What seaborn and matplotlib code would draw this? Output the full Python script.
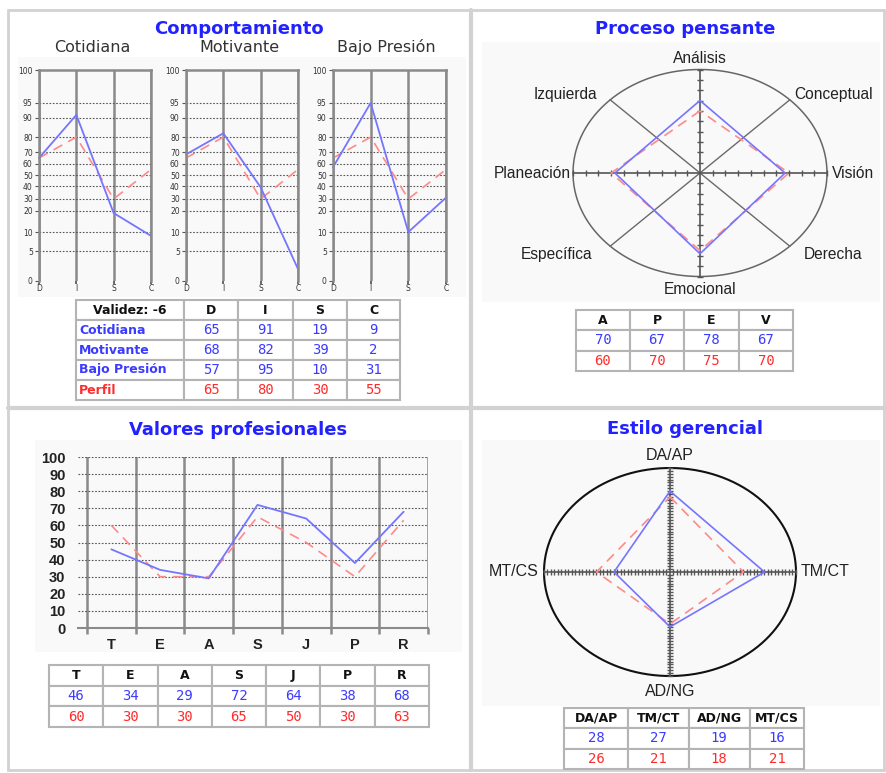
import numpy as np
import seaborn as sns
import matplotlib.pyplot as plt
from matplotlib.lines import Line2D
from matplotlib.patches import Rectangle

# ---- data ----
disc_cats = ["D", "I", "S", "C"]
disc_names = ["Cotidiana", "Motivante", "Bajo Presión"]
cotidiana = [65, 91, 19, 9]
motivante = [68, 82, 39, 2]
bajo_presion = [57, 95, 10, 31]
perfil_disc = [65, 80, 30, 55]
validez = -6
disc_ticks = [0, 5, 10, 20, 30, 40, 50, 60, 70, 80, 90, 95, 100]
# relative height of each tick on the (non linear) DISC scale
disc_scale = [0, .142, .232, .332, .389, .450, .502, .555, .611, .682, .773, .844, 1.0]

pp_labels = ["Análisis", "Conceptual", "Visión", "Derecha",
             "Emocional", "Específica", "Planeación", "Izquierda"]
pp_cols = ["A", "P", "E", "V"]
pp_actual = [70, 67, 78, 67]
pp_perfil = [60, 70, 75, 70]

vp_cats = ["T", "E", "A", "S", "J", "P", "R"]
vp_actual = [46, 34, 29, 72, 64, 38, 68]
vp_perfil = [60, 30, 30, 65, 50, 30, 63]

eg_cols = ["DA/AP", "TM/CT", "AD/NG", "MT/CS"]
eg_actual = [28, 27, 19, 16]
eg_perfil = [26, 21, 18, 21]
eg_max = 36

# ---- style ----
W, H = 887, 773
TITLE = "#2222ff"
BLUE_TXT = "#3b3bff"
RED_TXT = "#ff2b2b"
BLUE_LN = "#7575ff"
RED_LN = "#ff8a8a"
DASH = (0, (6, 4))

sns.set_theme(style="white")
plt.rcParams["font.family"] = ["DejaVu Sans"]

fig = plt.figure(figsize=(W / 100, H / 100), dpi=100)
fig.patch.set_facecolor("white")


def rect(x0, y0, x1, y1):
    return [x0 / W, 1 - y1 / H, (x1 - x0) / W, (y1 - y0) / H]


def fline(x0, y0, x1, y1, **kw):
    fig.add_artist(Line2D([x0 / W, x1 / W], [1 - y0 / H, 1 - y1 / H],
                          transform=fig.transFigure, **kw))


def fbox(x0, y0, x1, y1, **kw):
    fig.add_artist(Rectangle((x0 / W, 1 - y1 / H), (x1 - x0) / W, (y1 - y0) / H,
                             transform=fig.transFigure, **kw))


def ftext(x, y, s, **kw):
    fig.text(x / W, 1 - y / H, s, **kw)


def line(ax, xs, ys, color, dashed=False, lw=1.3):
    kw = dict(ls=DASH) if dashed else {}
    sns.lineplot(x=xs, y=ys, ax=ax, color=color, lw=lw, sort=False,
                 estimator=None, clip_on=False, **kw)


def table(box, cells, col_px, colors, left_first=False):
    ax = fig.add_axes(rect(*box))
    ax.axis("off")
    widths = np.array(col_px) / sum(col_px)
    tb = ax.table(cellText=cells, colWidths=widths, cellLoc="center", bbox=[0, 0, 1, 1])
    tb.auto_set_font_size(False)
    for (r, c), cell in tb.get_celld().items():
        cell.set_edgecolor("#b4b4b4")
        cell.set_linewidth(1.5)
        t = cell.get_text()
        if r == 0:
            t.set_fontweight("bold")
            t.set_color("#111111")
            t.set_fontsize(9)
        else:
            t.set_color(colors[r - 1])
            if left_first and c == 0:
                cell._loc = "left"
                cell.PAD = 0.03
                t.set_ha("left")
                t.set_fontweight("bold")
                t.set_fontsize(9)
            else:
                t.set_family("DejaVu Sans Mono")
                t.set_fontsize(10)
    return tb


# ---- frame ----
for b in [(18, 57, 466, 297), (482, 42, 880, 302), (35, 440, 462, 652), (482, 440, 880, 706)]:
    fbox(*b, facecolor="#f9f9f9", edgecolor="none", zorder=-5)
fbox(8, 10, 884, 770, facecolor="none", edgecolor="#d2d2d2", lw=2, zorder=-4)
fline(471, 10, 471, 770, color="#d2d2d2", lw=3, zorder=-4)
fline(8, 408, 884, 408, color="#d2d2d2", lw=3, zorder=-4)

# ---- Comportamiento ----
ftext(239, 29, "Comportamiento", ha="center", va="center", fontsize=13,
      fontweight="bold", color=TITLE)


def fwd(v):
    return np.interp(v, disc_ticks, disc_scale)


def inv(p):
    return np.interp(p, disc_scale, disc_ticks)


disc_series = [cotidiana, motivante, bajo_presion]
disc_x = [(39, 151), (186, 298), (333, 446)]
for name, vals, (x0, x1) in zip(disc_names, disc_series, disc_x):
    ax = fig.add_axes(rect(x0, 70, x1, 281))
    ax.set_facecolor("none")
    ax.set_yscale("function", functions=(fwd, inv))
    xs = list(range(len(disc_cats)))
    line(ax, xs, perfil_disc, RED_LN, dashed=True, lw=1.2)
    line(ax, xs, vals, BLUE_LN, lw=1.3)
    ax.set_xlim(0, len(disc_cats) - 1)
    ax.set_ylim(0, 100)
    ax.set_yticks(disc_ticks)
    ax.set_yticklabels([str(t) for t in disc_ticks])
    ax.set_xticks(xs)
    ax.set_xticklabels(disc_cats)
    ax.set_axisbelow(True)
    ax.grid(axis="x", color="#8a8a8a", lw=1.8)
    ax.grid(axis="y", color="#555555", ls=(0, (1.5, 1.5)), lw=0.8)
    gl = ax.get_ygridlines()
    gl[0].set_visible(False)
    gl[-1].set_visible(False)
    for s in ["left", "right", "top"]:
        ax.spines[s].set_color("#8a8a8a")
        ax.spines[s].set_linewidth(1.8)
    ax.spines["bottom"].set_visible(False)
    ax.tick_params(axis="y", labelsize=5.5, length=3, width=0.8, color="#555555",
                   labelcolor="#333333", pad=1.5, left=True)
    ax.tick_params(axis="x", labelsize=5.5, length=2, color="#555555",
                   labelcolor="#333333", pad=0.5, bottom=True)
    ax.minorticks_off()
    ftext((x0 + x1) / 2 - 3, 47, name, ha="center", va="center", fontsize=11.5,
          color="#333333")

table((76, 300, 400, 400),
      [[f"Validez: {validez}"] + disc_cats] +
      [[n] + [str(v) for v in s] for n, s in zip(disc_names, disc_series)] +
      [["Perfil"] + [str(v) for v in perfil_disc]],
      [108, 54, 55, 54, 53],
      [BLUE_TXT, BLUE_TXT, BLUE_TXT, RED_TXT], left_first=True)

# ---- radar helpers ----
pp_angle = {"A": 90, "V": 0, "E": 270, "P": 180}
eg_angle = {"DA/AP": 90, "TM/CT": 0, "AD/NG": 270, "MT/CS": 180}


def poly(keys, vals, angles, vmax):
    a = np.deg2rad([angles[k] for k in keys] + [angles[keys[0]]])
    v = np.array(list(vals) + [vals[0]]) / vmax
    return v * np.cos(a), v * np.sin(a)


def radar_base(ax, ring_color, ring_lw, step, tick_ms, spokes):
    ax.set_xlim(-1, 1)
    ax.set_ylim(-1, 1)
    ax.axis("off")
    t = np.linspace(0, 2 * np.pi, 400)
    ax.plot(np.cos(t), np.sin(t), color=ring_color, lw=ring_lw, clip_on=False)
    if spokes:
        for d in [45, 135, 225, 315]:
            r = np.deg2rad(d)
            ax.plot([0, np.cos(r)], [0, np.sin(r)], color="#6a6a6a", lw=1, clip_on=False)
    ax.plot([-1, 1], [0, 0], color="#555555", lw=1.2, clip_on=False)
    ax.plot([0, 0], [-1, 1], color="#555555", lw=1.2, clip_on=False)
    tk = np.arange(step, 1.0 + 1e-9, step)
    tk = np.concatenate([tk, -tk])
    ax.plot(tk, np.zeros_like(tk), ls="none", marker="|", ms=tick_ms, mew=1,
            color="#555555", clip_on=False)
    ax.plot(np.zeros_like(tk), tk, ls="none", marker="_", ms=tick_ms, mew=1,
            color="#555555", clip_on=False)


# ---- Proceso pensante ----
ftext(685, 29, "Proceso pensante", ha="center", va="center", fontsize=13,
      fontweight="bold", color=TITLE)
ax = fig.add_axes(rect(573, 69.5, 827, 276.5))
radar_base(ax, "#666666", 1.1, 0.1, 5, True)
px, py = poly(pp_cols, pp_perfil, pp_angle, 100)
line(ax, px, py, RED_LN, dashed=True, lw=1.2)
px, py = poly(pp_cols, pp_actual, pp_angle, 100)
line(ax, px, py, BLUE_LN, lw=1.2)
lab_kw = dict(fontsize=11.2, color="#222222", family=["Liberation Sans"])
pp_pos = [(0, 1.11, "center"), (1.05, 0.76, "center"), (1.04, 0, "left"),
          (1.05, -0.79, "center"), (0, -1.13, "center"), (-1.13, -0.79, "center"),
          (-1.02, 0, "right"), (-1.06, 0.76, "center")]
for lab, (x, y, ha) in zip(pp_labels, pp_pos):
    ax.text(x, y, lab, ha=ha, va="center", **lab_kw)

table((576, 310, 793, 371),
      [pp_cols, [str(v) for v in pp_actual], [str(v) for v in pp_perfil]],
      [54, 54, 55, 54], [BLUE_TXT, RED_TXT])

# ---- Valores profesionales ----
ftext(238, 430, "Valores profesionales", ha="center", va="center", fontsize=13,
      fontweight="bold", color=TITLE)
ax = fig.add_axes(rect(78, 457, 428, 628))
ax.set_facecolor("none")
xs = list(range(len(vp_cats)))
line(ax, xs, vp_perfil, RED_LN, dashed=True, lw=1.2)
line(ax, xs, vp_actual, BLUE_LN, lw=1.3)
n = len(vp_cats)
ax.set_xlim(-0.5 - 9 / 48.8, n - 0.5)
ax.set_ylim(0, 100)
ax.set_yticks(range(0, 101, 10))
ax.set_xticks(xs)
ax.set_xticklabels(vp_cats)
ax.set_xticks(np.arange(-0.5, n, 1), minor=True)
ax.set_axisbelow(True)
ax.grid(axis="x", which="minor", color="#8a8a8a", lw=1.8)
ax.grid(axis="x", which="major", visible=False)
ax.grid(axis="y", color="#555555", ls=(0, (1.5, 1.5)), lw=0.8)
ax.get_ygridlines()[0].set_visible(False)
for s in ["left", "right", "top"]:
    ax.spines[s].set_visible(False)
ax.spines["bottom"].set_color("#8a8a8a")
ax.spines["bottom"].set_linewidth(1.5)
ax.tick_params(axis="y", length=0, pad=9, labelsize=10.5, labelcolor="#222222")
ax.tick_params(axis="x", which="major", length=0, pad=7, labelsize=10.5,
               labelcolor="#222222")
ax.tick_params(axis="x", which="minor", length=4, width=1.8, color="#8a8a8a",
               direction="out", bottom=True)
for lab in ax.get_xticklabels() + ax.get_yticklabels():
    lab.set_fontweight("bold")
    lab.set_family("Liberation Sans")

table((49, 665, 429, 727),
      [vp_cats, [str(v) for v in vp_actual], [str(v) for v in vp_perfil]],
      [54] * 7, [BLUE_TXT, RED_TXT])

# ---- Estilo gerencial ----
ftext(685, 429, "Estilo gerencial", ha="center", va="center", fontsize=13,
      fontweight="bold", color=TITLE)
ax = fig.add_axes(rect(544, 468, 796, 676))
radar_base(ax, "#111111", 1.5, 1 / eg_max, 4, False)
px, py = poly(eg_cols, eg_perfil, eg_angle, eg_max)
line(ax, px, py, RED_LN, dashed=True, lw=1.2)
px, py = poly(eg_cols, eg_actual, eg_angle, eg_max)
line(ax, px, py, BLUE_LN, lw=1.2)
eg_pos = [(0, 1.125, "center"), (1.04, 0, "left"), (0, -1.15, "center"), (-1.04, 0, "right")]
for lab, (x, y, ha) in zip(eg_cols, eg_pos):
    ax.text(x, y, lab, ha=ha, va="center", fontsize=11.5, color="#222222",
            family=["Liberation Sans"])

table((564, 708, 804, 769),
      [eg_cols, [str(v) for v in eg_actual], [str(v) for v in eg_perfil]],
      [64, 60, 61, 54], [BLUE_TXT, RED_TXT])

fig.savefig("out.png", dpi=100)
